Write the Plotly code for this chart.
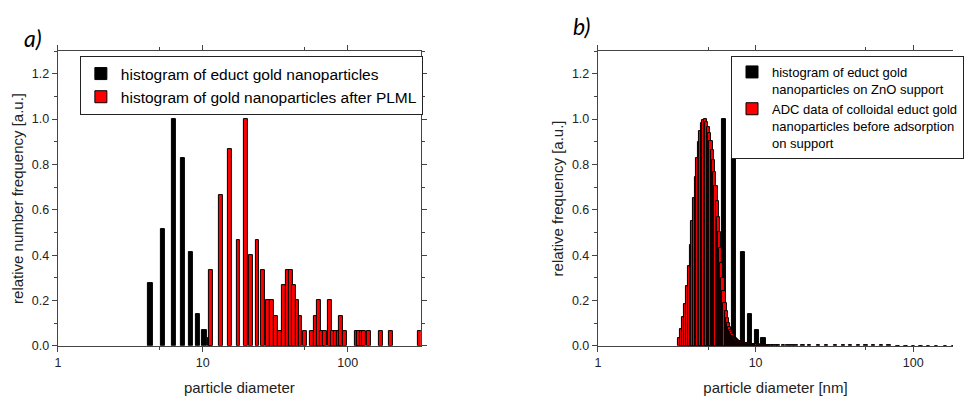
import plotly.graph_objects as go

# ---------------- data ----------------
# panel a: histogram of educt gold nanoparticles
a_educt_d = [4.35, 5.33, 6.32, 7.3, 8.27, 9.25, 10.25, 11.2]
a_educt_f = [0.276, 0.517, 1.0, 0.828, 0.414, 0.138, 0.069, 0.034]

# panel a: histogram of gold nanoparticles after PLML
a_plml_d = [11.3, 13.4, 15.4, 17.6, 19.7, 21.6, 23.8, 25.9, 28.0, 29.9,
            32.0, 33.9, 36.1, 38.5, 40.6, 42.8, 45.0, 47.2, 51.0, 56.5,
            60.0, 63.0, 66.2, 69.8, 75.3, 79.0, 83.3, 86.5, 90.4, 96.2,
            115.0, 120.0, 124.5, 130.0, 140.0, 168.5, 199.0, 317.0]
a_plml_f = [0.333, 0.667, 0.867, 0.467, 1.0, 0.4, 0.467, 0.333, 0.2, 0.2,
            0.133, 0.067, 0.267, 0.333, 0.333, 0.267, 0.2, 0.133, 0.067, 0.067,
            0.133, 0.2, 0.067, 0.067, 0.2, 0.067, 0.067, 0.067, 0.133, 0.067,
            0.067, 0.067, 0.067, 0.067, 0.067, 0.067, 0.067, 0.067]

# panel b: histogram of educt gold nanoparticles on ZnO support
b_educt_d = [4.35, 5.33, 6.32, 7.3, 8.27, 9.25, 10.25, 11.2]
b_educt_f = [0.276, 0.517, 1.0, 0.828, 0.414, 0.138, 0.069, 0.034]

# panel b: ADC data of colloidal educt gold nanoparticles
b_adc_d = [3.3, 3.4, 3.5, 3.6, 3.7, 3.8, 3.9, 4.0, 4.1, 4.2,
           4.3, 4.4, 4.5, 4.6, 4.7, 4.8, 4.9, 5.0, 5.1, 5.2,
           5.3, 5.4, 5.5, 5.6, 5.7, 5.8, 5.9, 6.0, 6.1, 6.2,
           6.3, 6.4, 6.5, 6.6, 6.7, 6.8, 6.9, 7.0, 7.1, 7.2,
           7.3, 7.4, 7.5, 7.6, 7.7, 7.8, 7.9, 8.0, 8.1, 8.2,
           8.3, 8.4, 8.5, 8.6, 8.7, 8.8, 8.9, 9.0, 9.1, 9.2,
           9.3, 9.4, 9.5, 9.6, 9.7, 9.8, 9.9, 10.0, 10.2, 10.4,
           10.6, 10.8, 11.0, 11.2, 11.4, 11.6, 11.8, 12.0, 12.5, 13.0,
           13.5, 14.0, 15.0, 16.0, 17.0, 18.0, 20.0, 22.0, 25.0, 28.0,
           32.0, 36.0, 40.0, 45.0, 50.0, 56.0, 63.0, 70.0, 80.0, 90.0,
           100.0, 112.0, 125.0, 140.0, 160.0, 180.0]
b_adc_f = [0.033, 0.074, 0.125, 0.186, 0.262, 0.351, 0.446, 0.551, 0.651, 0.745,
           0.828, 0.897, 0.946, 0.984, 0.997, 1.0, 0.988, 0.966, 0.94, 0.905,
           0.865, 0.82, 0.765, 0.705, 0.64, 0.57, 0.5, 0.43, 0.365, 0.3,
           0.24, 0.19, 0.152, 0.122, 0.099, 0.082, 0.069, 0.059, 0.051, 0.044,
           0.038, 0.033, 0.029, 0.026, 0.023, 0.021, 0.019, 0.017, 0.016, 0.015,
           0.014, 0.013, 0.012, 0.0115, 0.011, 0.0105, 0.01, 0.0095, 0.009, 0.0087,
           0.0083, 0.008, 0.0077, 0.0074, 0.0071, 0.0068, 0.0066, 0.0064, 0.006, 0.0057,
           0.0054, 0.0051, 0.0048, 0.0046, 0.0044, 0.0042, 0.004, 0.0038, 0.0035, 0.0033,
           0.003, 0.0029, 0.0027, 0.0025, 0.0024, 0.0023, 0.0021, 0.002, 0.0019, 0.0018,
           0.0017, 0.0016, 0.0015, 0.0014, 0.0013, 0.0012, 0.0012, 0.0011, 0.001, 0.001,
           0.0009, 0.0008, 0.0008, 0.0007, 0.0006, 0.0005]

# ---------------- styling ----------------
FONT = "Liberation Sans, Arial, sans-serif"
AXC = "#444444"
TXT = "#222222"
W, H = 964, 398


def log_extent(d, decades):
    """bar width/offset (linear data units) giving a constant width on a log axis"""
    f = 10 ** (decades / 2)
    width = [v * f - v / f for v in d]
    offset = [v / f - v for v in d]
    return width, offset


fig = go.Figure()


def add_bars(d, f, decades, color, name, xa, ya, leg):
    w, o = log_extent(d, decades)
    fig.add_trace(go.Bar(x=d, y=f, width=w, offset=o,
                         marker=dict(color=color, line=dict(color="black", width=1)),
                         name=name, xaxis=xa, yaxis=ya, legend=leg))


add_bars(a_educt_d, a_educt_f, 0.029, "black",
         "histogram of educt gold nanoparticles", "x", "y", "legend")
add_bars(a_plml_d, a_plml_f, 0.027, "#ff0000",
         "histogram of gold nanoparticles after PLML", "x", "y", "legend")
add_bars(b_educt_d, b_educt_f, 0.027, "black",
         "histogram of educt gold<br>nanoparticles on ZnO support", "x2", "y2", "legend2")
add_bars(b_adc_d, b_adc_f, 0.021, "#ff0000",
         "ADC data of colloidal educt gold<br>nanoparticles before adsorption<br>on support",
         "x2", "y2", "legend2")

ydom = [46 / H, 346 / H]


def xax(domain, rng, title):
    return dict(type="log", domain=domain, range=rng,
                showline=True, linecolor=AXC, linewidth=1.3, mirror="ticks",
                ticks="outside", ticklen=5, tickwidth=1.2, tickcolor=AXC,
                tickmode="array", tickvals=[1, 10, 100], ticktext=["1", "10", "100"],
                minor=dict(tickmode="array", tickvals=[5, 50], ticks="outside",
                           ticklen=3, tickwidth=1.2, tickcolor=AXC, showgrid=False),
                showgrid=False, zeroline=False,
                tickfont=dict(family=FONT, size=12.5, color=TXT),
                title=dict(text=title, font=dict(family=FONT, size=15, color=TXT), standoff=13))


def yax(anchor, mirror, title):
    return dict(anchor=anchor, domain=ydom, range=[0, 1.3],
                showline=True, linecolor=AXC, linewidth=1.3, mirror=mirror,
                ticks="outside", ticklen=5, tickwidth=1.2, tickcolor=AXC,
                tick0=0, dtick=0.2, tickformat=".1f",
                minor=dict(dtick=0.1, ticks="outside", ticklen=3, tickwidth=1.2,
                           tickcolor=AXC, showgrid=False),
                showgrid=False, zeroline=False,
                tickfont=dict(family=FONT, size=12.5, color=TXT),
                title=dict(text=title, font=dict(family=FONT, size=15, color=TXT), standoff=4))


fig.update_layout(
    width=W, height=H, margin=dict(l=0, r=0, t=0, b=0),
    paper_bgcolor="white", plot_bgcolor="white",
    barmode="overlay", bargap=0,
    xaxis=dict(anchor="y", **xax([55.7 / W, 424 / W], [0, 2.505], "particle diameter")),
    yaxis=yax("x", "ticks", "relative number frequency [a.u.]"),
    xaxis2=dict(anchor="y2", **xax([603.7 / W, 1.0], [0, 2.252], "particle diameter [nm]")),
    yaxis2=yax("x2", False, "relative frequency [a.u.]"),
    legend=dict(x=78 / W, y=(H - 57) / H, xanchor="left", yanchor="top",
                bgcolor="white", bordercolor="#222222", borderwidth=1,
                font=dict(family=FONT, size=15.5, color="black"), tracegroupgap=0),
    legend2=dict(x=739 / W, y=(H - 57) / H, xanchor="left", yanchor="top",
                 bgcolor="white", bordercolor="#222222", borderwidth=1, valign="top",
                 font=dict(family=FONT, size=13, color="black"), tracegroupgap=0),
    showlegend=True,
    annotations=[
        dict(text="<i>a)</i>", x=19 / W, y=(H - 22) / H, xref="paper", yref="paper",
             xanchor="left", yanchor="top", showarrow=False,
             font=dict(family="Lato, Open Sans, sans-serif", size=23, color="black")),
        dict(text="<i>b)</i>", x=576 / W, y=(H - 10) / H, xref="paper", yref="paper",
             xanchor="left", yanchor="top", showarrow=False,
             font=dict(family="Lato, Open Sans, sans-serif", size=23, color="black")),
    ],
)

fig.write_html("out.html")
